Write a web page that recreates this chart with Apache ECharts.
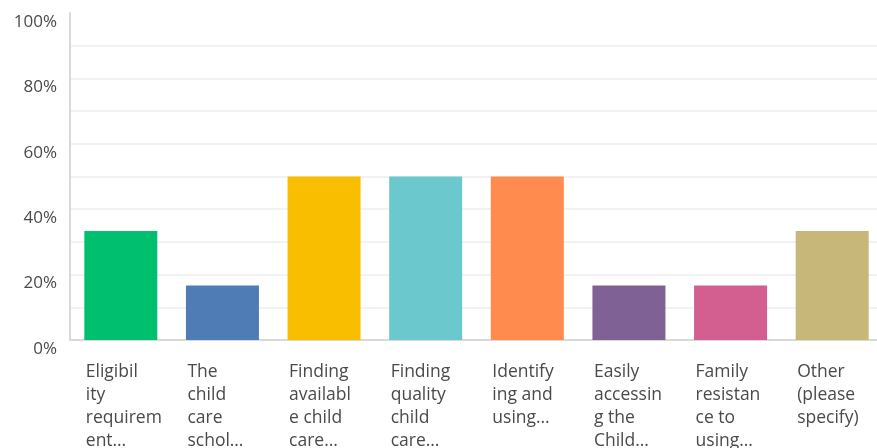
<!DOCTYPE html>
<html>
<head>
<meta charset="utf-8">
<script src="https://cdn.jsdelivr.net/npm/echarts@6/dist/echarts.min.js"></script>
<style>html,body{margin:0;padding:0;background:#fff;overflow:hidden}#c{width:877px;height:448px}</style>
</head>
<body>
<div id="c"></div>
<script>
const categories = [
  "Eligibil\nity\nrequirem\nent…",
  "The\nchild\ncare\nschol…",
  "Finding\navailabl\ne child\ncare…",
  "Finding\nquality\nchild\ncare…",
  "Identify\ning and\nusing…",
  "Easily\naccessin\ng the\nChild…",
  "Family\nresistan\nce to\nusing…",
  "Other\n(please\nspecify)"
];
const values = [33.33, 16.67, 50, 50, 50, 16.67, 16.67, 33.33];
const colors = ["#00bf6f", "#507cb6", "#f9be00", "#6bc8cd", "#ff8b4f", "#7f6195", "#d25f90", "#c7b879"];
const yTicks = [0, 20, 40, 60, 80, 100];

const chart = echarts.init(document.getElementById('c'), null, {renderer: 'canvas'});
chart.setOption({
  animation: false,
  backgroundColor: '#ffffff',
  grid: {left: 70, width: 813, top: 13, bottom: 108, containLabel: false, outerBoundsMode: 'none'},
  xAxis: {
    type: 'category',
    data: categories,
    axisLine: {show: true, lineStyle: {color: '#d9d9d9', width: 2}},
    axisTick: {show: false},
    axisLabel: {
      interval: 0,
      margin: 21,
      align: 'center',
      formatter: function (v) {
        return v.split('\n').map(function (s) { return '{a|' + s + '}'; }).join('\n');
      },
      rich: {
        a: {width: 70, align: 'left', fontSize: 17.5, lineHeight: 23, color: '#4a4a4a', fontFamily: 'Open Sans'}
      }
    }
  },
  yAxis: {
    type: 'value',
    min: 0,
    max: 100,
    interval: 10,
    axisLine: {show: true, lineStyle: {color: '#d9d9d9', width: 2}},
    axisTick: {show: false},
    splitLine: {show: true, showMinLine: false, showMaxLine: false, lineStyle: {color: '#f2f2f2', width: 2}},
    axisLabel: {
      margin: 13,
      fontSize: 17,
      color: '#4a4a4a',
      fontFamily: 'Open Sans',
      verticalAlign: 'top',
      lineHeight: 18,
      formatter: function (v) { return yTicks.indexOf(v) >= 0 ? v + '%' : ''; }
    }
  },
  series: [{
    type: 'bar',
    data: values.map(function (v, i) { return {value: v, itemStyle: {color: colors[i]}}; }),
    barWidth: 73
  }]
});
</script>
</body>
</html>
